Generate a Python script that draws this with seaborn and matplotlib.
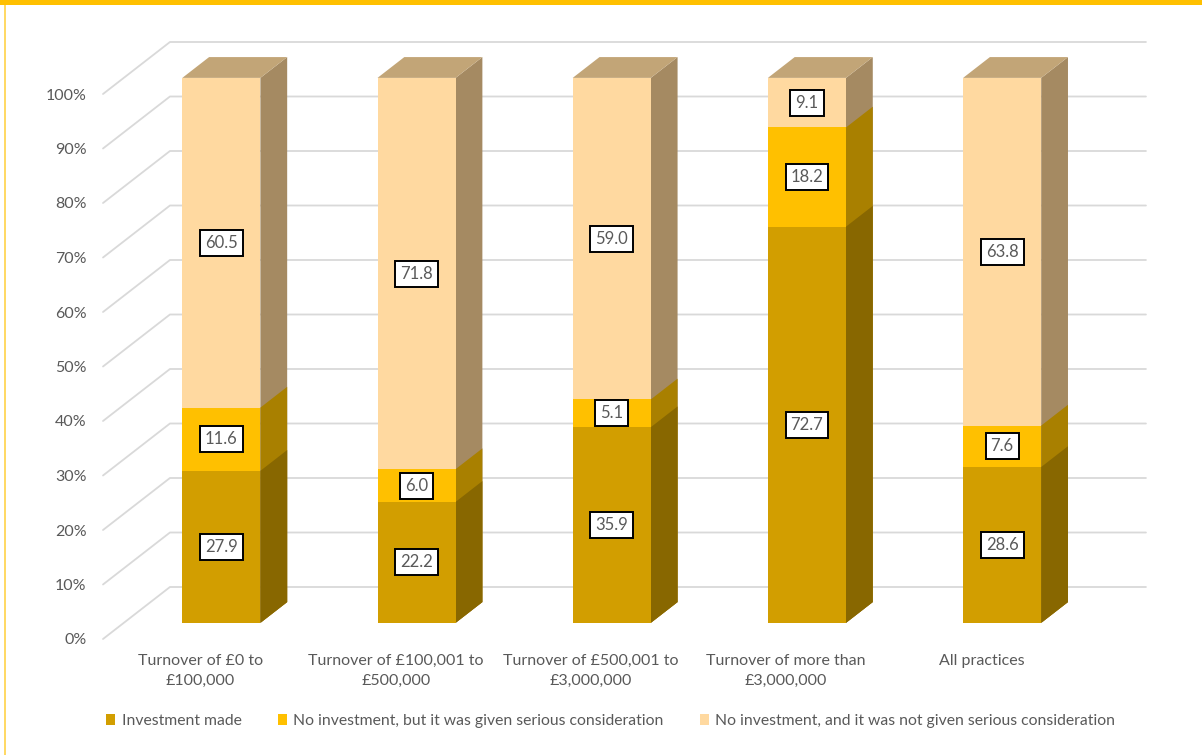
import matplotlib
matplotlib.use("Agg")
import matplotlib.pyplot as plt
from matplotlib.patches import Polygon, Rectangle, Patch
import numpy as np
import pandas as pd
import seaborn as sns

# ---- data -------------------------------------------------------------
categories = [
    "Turnover of £0 to\n£100,000",
    "Turnover of £100,001 to\n£500,000",
    "Turnover of £500,001 to\n£3,000,000",
    "Turnover of more than\n£3,000,000",
    "All practices",
]
investment_made = [27.9, 22.2, 35.9, 72.7, 28.6]
serious_consideration = [11.6, 6.0, 5.1, 18.2, 7.6]
not_considered = [60.5, 71.8, 59.0, 9.1, 63.8]
series_names = [
    "Investment made",
    "No investment, but it was given serious consideration",
    "No investment, and it was not given serious consideration",
]
y_ticks = list(range(0, 101, 10))

# ---- styling ----------------------------------------------------------
FRONT = ["#D29E00", "#FFC000", "#FFD9A0"]
SIDE = ["#886700", "#A98000", "#A58A62"]
TOP = ["#B08A3A", "#D2A63A", "#C2A577"]
TEXT = "#595959"
GRID = "#D9D9D9"
FONT = ["Lato", "DejaVu Sans"]

sns.set_theme(style="white")
plt.rcParams["font.family"] = FONT

W, H = 1202, 755
fig = plt.figure(figsize=(W / 100, H / 100), dpi=100)
ax = fig.add_axes([103 / W, (H - 639) / H, 976 / W, 545 / H])

# oblique depth vector (in data units) and depth range of the bars
DX, DY = 0.343, 9.54
D0, D1 = 0.31, 0.71
BAR_W = 0.40


def proj(x, y, d):
    return x + d * DX, y + d * DY


df = pd.DataFrame({
    "category": categories,
    "inv": investment_made,
    "cons": serious_consideration,
    "not": not_considered,
})
df["c1"] = df["inv"]
df["c2"] = df["inv"] + df["cons"]
df["c3"] = df["c2"] + df["not"]

# back-wall gridlines
for v in y_ticks:
    xs = [-0.5, -0.5 + DX, 4.5 + DX]
    ys = [v, v + DY, v + DY]
    ax.plot(xs, ys, color=GRID, lw=1.3, clip_on=False, zorder=0)

# stacked 3D bars, drawn from the full stack down so lower segments sit on top
layers = [("c3", 2), ("c2", 1), ("c1", 0)]
for col, k in layers:
    n_before = len(ax.patches)
    sns.barplot(data=df, x="category", y=col, color=FRONT[k], saturation=1,
                width=BAR_W, edgecolor="none", linewidth=0, ax=ax, zorder=3,
                errorbar=None)
    new_patches = ax.patches[n_before:]
    for i, p in enumerate(new_patches):
        top = df[col].iloc[i]
        # push the front face back to the bar's depth
        x0, y0 = proj(p.get_x(), p.get_y(), D0)
        p.set_x(x0)
        p.set_y(y0)
        p.set_clip_on(False)
        xr = i + BAR_W / 2
        # right side face
        side = [proj(xr, 0, D0), proj(xr, 0, D1), proj(xr, top, D1), proj(xr, top, D0)]
        ax.add_patch(Polygon(side, closed=True, facecolor=SIDE[k], edgecolor="none",
                             zorder=2.9, clip_on=False))
        if k == 2:
            xl = i - BAR_W / 2
            lid = [proj(xl, top, D0), proj(xl, top, D1), proj(xr, top, D1), proj(xr, top, D0)]
            ax.add_patch(Polygon(lid, closed=True, facecolor=TOP[k], edgecolor="none",
                                 zorder=2.9, clip_on=False))

# value labels in the middle of each segment's front face
for i in range(len(categories)):
    bottoms = [0, df["c1"].iloc[i], df["c2"].iloc[i]]
    vals = [investment_made[i], serious_consideration[i], not_considered[i]]
    for b, v in zip(bottoms, vals):
        x, y = proj(i, b + v / 2, D0)
        ax.text(x, y, f"{v:.1f}", ha="center", va="center", fontsize=12,
                color=TEXT, zorder=6, clip_on=False,
                bbox=dict(boxstyle="square,pad=0.3", facecolor="white",
                          edgecolor="black", linewidth=1.4))

ax.set_xlim(-0.5, 4.5)
ax.set_ylim(0, 100)
ax.set_yticks(y_ticks)
ax.set_yticklabels([f"{t}%" for t in y_ticks], fontsize=11.5, color=TEXT)
ax.set_xticks(range(len(categories)))
ax.set_xticklabels(categories, fontsize=11.5, color=TEXT, linespacing=1.5)
ax.tick_params(axis="y", length=0, pad=12)
ax.tick_params(axis="x", length=0, pad=11)
ax.set_xlabel("")
ax.set_ylabel("")
for s in ax.spines.values():
    s.set_visible(False)
ax.patch.set_alpha(0)

# legend
handles = [Patch(facecolor=c, edgecolor="none") for c in FRONT]
fig.legend(handles, series_names, loc="center", bbox_to_anchor=(0.508, (H - 721) / H),
           ncol=3, frameon=False, fontsize=11.3, handlelength=0.6, handleheight=0.75,
           handletextpad=0.4, columnspacing=2.3, labelcolor=TEXT)

# frame accents: yellow band along the top and a thin rule down the left
fig.add_artist(Rectangle((0, (H - 5) / H), 1, 5 / H, transform=fig.transFigure,
                         facecolor="#FFC000", edgecolor="none"))
fig.add_artist(Rectangle((4 / W, 0), 2 / W, (H - 5) / H, transform=fig.transFigure,
                         facecolor="#FFD966", edgecolor="none"))

fig.savefig("out.png", dpi=100, facecolor="white")
